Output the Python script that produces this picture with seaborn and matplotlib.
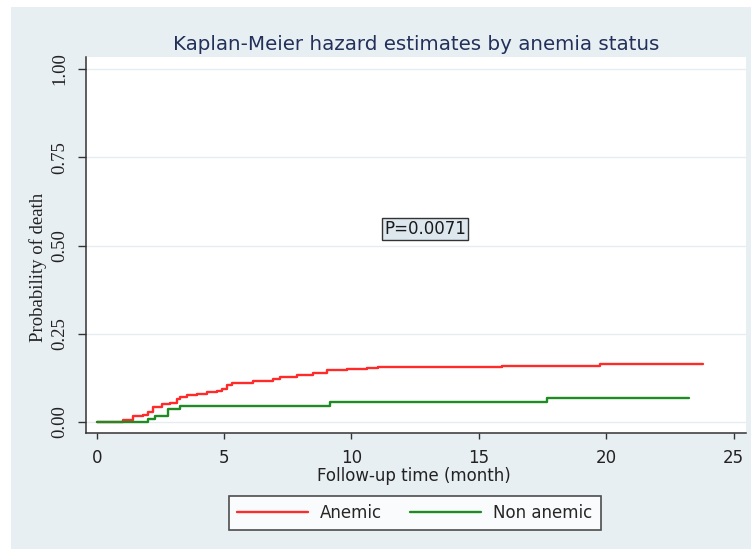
import numpy as np
import pandas as pd
import matplotlib
matplotlib.use("Agg")
import matplotlib.pyplot as plt
from matplotlib.patches import Rectangle
import seaborn as sns

# ---- data ----
groups = ["Anemic", "Non anemic"]
anemic_time = [0, 1.05, 1.44, 1.83, 2.03, 2.22, 2.55, 2.88, 3.14, 3.27, 3.53, 3.93,
               4.32, 4.71, 4.91, 5.10, 5.30, 6.15, 6.93, 7.20, 7.85, 8.50, 9.03,
               9.82, 10.60, 11.06, 15.90, 19.76, 23.79]
anemic_prob = [0, 0.006, 0.018, 0.020, 0.029, 0.042, 0.051, 0.055, 0.064, 0.070, 0.076, 0.079,
               0.085, 0.089, 0.095, 0.105, 0.111, 0.116, 0.123, 0.127, 0.133, 0.140, 0.147,
               0.149, 0.152, 0.157, 0.159, 0.164, 0.164]
nonanemic_time = [0, 2.03, 2.29, 2.81, 3.27, 9.16, 17.67, 23.27]
nonanemic_prob = [0, 0.008, 0.017, 0.036, 0.045, 0.057, 0.067, 0.067]

title = "Kaplan-Meier hazard estimates by anemia status"
x_label = "Follow-up time (month)"
y_label = "Probability of death"
x_ticks = [0, 5, 10, 15, 20, 25]
y_ticks = [0.00, 0.25, 0.50, 0.75, 1.00]
y_ticklabels = ["0.00", "0.25", "0.50", "0.75", "1.00"]
p_text = "P=0.0071"
p_pos = (12.89, 0.548)

df = pd.concat([
    pd.DataFrame({"time": anemic_time, "prob": anemic_prob, "group": groups[0]}),
    pd.DataFrame({"time": nonanemic_time, "prob": nonanemic_prob, "group": groups[1]}),
], ignore_index=True)

palette = {"Anemic": "#ff2a2a", "Non anemic": "#1e8c22"}

sns.set_theme(style="white")
plt.rcParams["font.family"] = ["DejaVu Sans"]

W, H = 751, 549
fig = plt.figure(figsize=(W / 100, H / 100), dpi=100, facecolor="white")
bg = Rectangle((11 / W, 0), 1 - 11 / W, 1 - 7 / H, transform=fig.transFigure,
               facecolor="#e8eff3", edgecolor="none", zorder=-10)
fig.patches.append(bg)

L, R, T, B = 86, 746, 57, 433
ax = fig.add_axes([L / W, 1 - B / H, (R - L) / W, (B - T) / H])
ax.set_facecolor("white")

sns.lineplot(data=df, x="time", y="prob", hue="group", palette=palette,
             estimator=None, drawstyle="steps-post", linewidth=1.7, ax=ax, legend=True)

ax.set_xlim(-0.42, 25.49)
ax.set_ylim(-0.031, 1.034)
ax.set_xticks(x_ticks)
ax.set_yticks(y_ticks)
ax.set_yticklabels(y_ticklabels, family="Liberation Serif", fontsize=13.5, color="#222222")
ax.tick_params(axis="y", labelrotation=90, length=6, width=1.0, pad=6.5, color="#333333",
               direction="out", left=True)
ax.tick_params(axis="x", labelsize=12, length=4.5, width=1.0, pad=7, color="#333333",
               labelcolor="#222222", direction="out", bottom=True)
for lab in ax.get_yticklabels():
    lab.set_va("center")

ax.grid(axis="y", color="#e6edf0", linewidth=1.0)
ax.grid(axis="x", visible=False)
for s in ["top", "right"]:
    ax.spines[s].set_visible(False)
for s in ["left", "bottom"]:
    ax.spines[s].set_color("#333333")
    ax.spines[s].set_linewidth(1.1)

ax.set_xlabel(x_label, fontsize=12, color="#222222")
ax.xaxis.set_label_coords((414 - L) / (R - L), (B - 467) / (B - T))
ax.set_ylabel(y_label, family="Liberation Serif", fontsize=13.5, color="#222222")
ax.yaxis.set_label_coords((47 - L) / (R - L), (B - 267) / (B - T))

ax.text(p_pos[0], p_pos[1], p_text, fontsize=12, color="#1a1a1a", ha="center", va="center",
        bbox=dict(boxstyle="square,pad=0.12", facecolor="#dde7ee", edgecolor="#333333",
                  linewidth=1.0))

fig.text(416 / W, 1 - 50 / H, title, ha="center", va="baseline", fontsize=14.3,
         color="#22305a")

handles, labels = ax.get_legend_handles_labels()
ax.get_legend().remove()
leg = fig.legend(handles, labels, loc="center", bbox_to_anchor=(415 / W, 1 - 513 / H),
                 ncol=2, fontsize=12, handlelength=4.25, handletextpad=0.72,
                 columnspacing=1.68, borderpad=0.5, frameon=True, fancybox=False)
leg.get_frame().set_edgecolor("#222222")
leg.get_frame().set_linewidth(1.2)
leg.get_frame().set_facecolor("white")
for h in leg.get_lines():
    h.set_linewidth(1.7)

fig.savefig("out.png", dpi=100, facecolor=fig.get_facecolor())
